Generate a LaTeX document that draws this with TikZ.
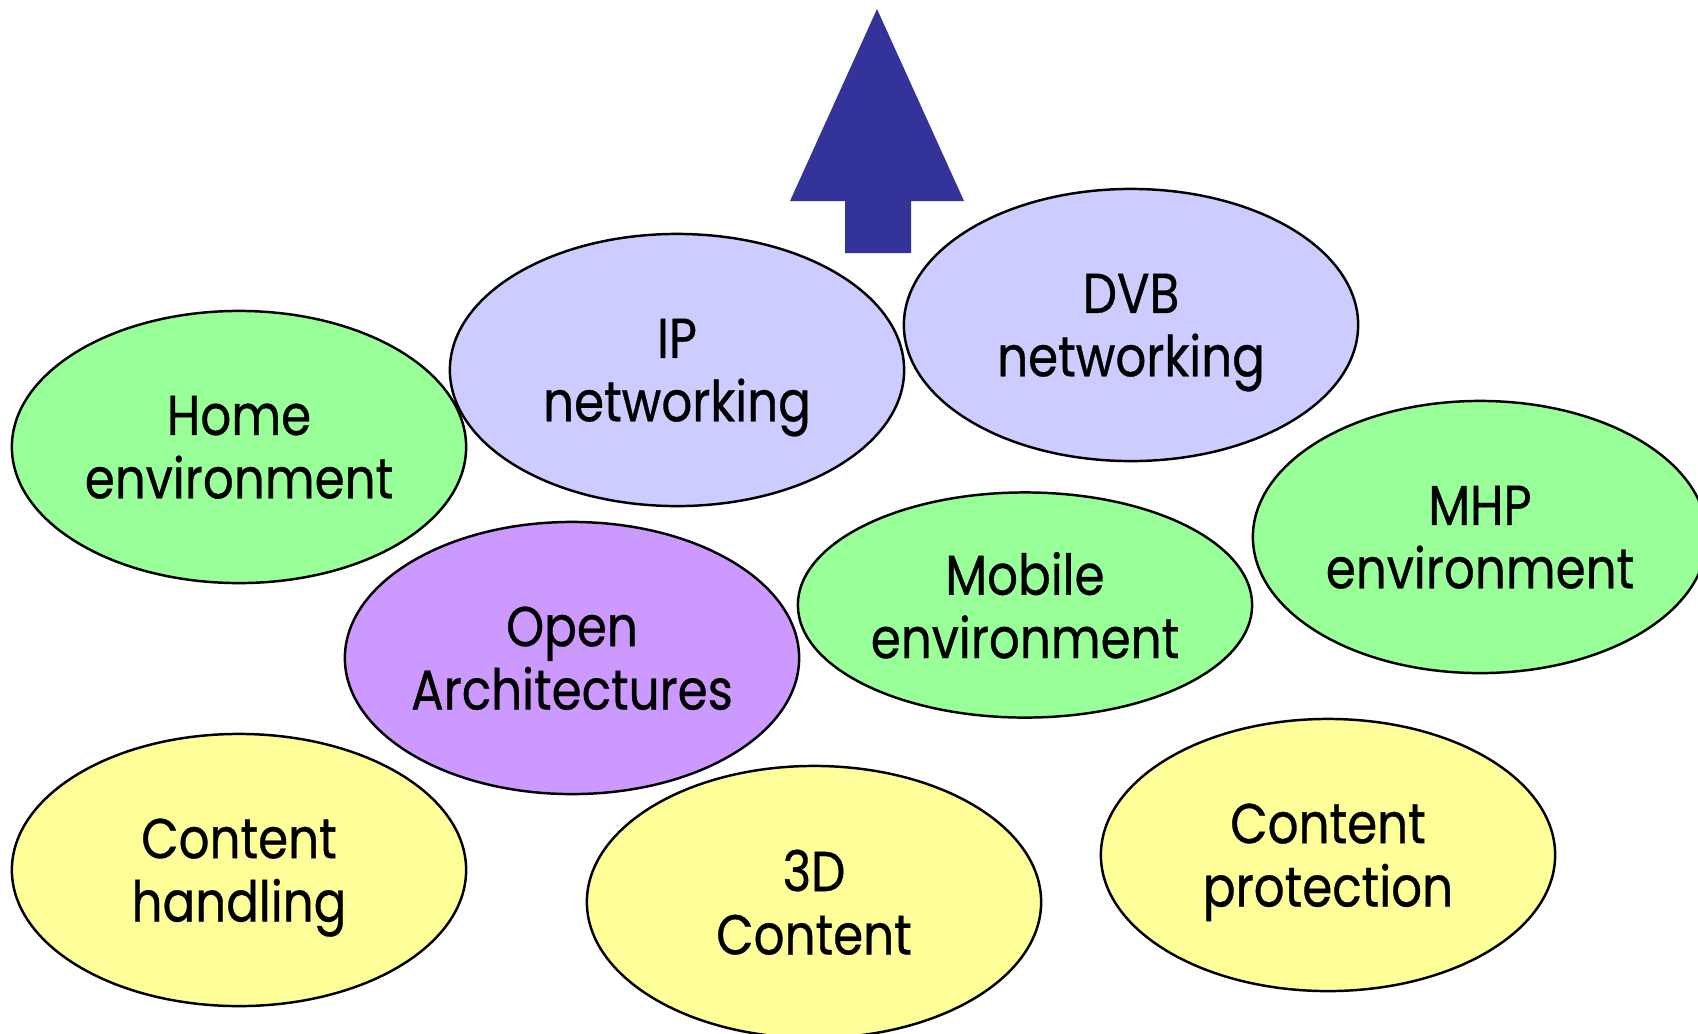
\documentclass[tikz,border=0pt]{standalone}
\usepackage{fontspec}
\setmainfont{Poppins}[FakeStretch=0.86, FakeBold=0.6]
\usetikzlibrary{shapes.geometric}
\definecolor{envgreen}{RGB}{153,255,153}
\definecolor{netblue}{RGB}{204,204,255}
\definecolor{archpurple}{RGB}{204,153,255}
\definecolor{contentyellow}{RGB}{255,255,153}
\definecolor{arrowblue}{RGB}{51,51,153}

\begin{document}
\begin{tikzpicture}[x=0.01cm, y=-0.01cm,
  topic/.style={ellipse, draw, line width=0.7pt, inner sep=0pt, minimum width=4.54cm, minimum height=2.72cm,
    label={[align=center, text depth=0pt, font=\fontsize{16}{18}\selectfont]center:#1}},
  env/.style={topic=#1, fill=envgreen},
  net/.style={topic=#1, fill=netblue},
  arch/.style={topic=#1, fill=archpurple},
  content/.style={topic=#1, fill=contentyellow}]

  \useasboundingbox (0,0) rectangle (1698,1033);

  % upward arrow
  \fill [arrowblue] (877,9) -- (964,201) -- (911,201) -- (911,253) -- (845,253) -- (845,201) -- (790,201) -- cycle;

  \node [env={Home\\ environment}] (home) at (239,447) {};
  \node [net={IP\\ networking}] (ip) at (677,370) {};
  \node [net={DVB\\ networking}] (dvb) at (1131,325) {};
  \node [env={MHP\\ environment}] (mhp) at (1480,537) {};
  \node [arch={Open\\ Architectures}] (open) at (572,658) {};
  \node [env={Mobile\\ environment}, minimum height=2.25cm] (mobile) at (1025,605) {};
  \node [content={Content\\ handling}] (handling) at (239,870) {};
  \node [content={3D\\ Content}] (threed) at (814,902) {};
  \node [content={Content\\ protection}] (protection) at (1328,855) {};
\end{tikzpicture}
\end{document}
